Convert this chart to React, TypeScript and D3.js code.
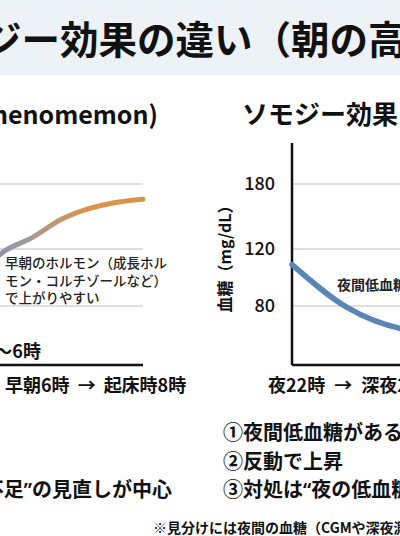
import React from 'react';
import * as d3 from 'd3';

// ---- data ----
const yTicks = [80, 120, 180];
const dawnHours = [22, 23, 24, 25, 26, 27, 28, 29, 30, 31, 32];
const dawnValues = [100, 98, 97, 99, 104, 119, 131, 147, 157, 163, 166];
const somogyiHours = [22, 24, 26, 28, 30, 32];
const somogyiValues = [109, 79, 64, 60, 115, 168];
const dawnNote = ['早朝のホルモン（成長ホル', 'モン・コルチゾールなど）', 'で上がりやすい'];
const somogyiNote = '夜間低血糖（無自覚のことも）';
const dawnXLabel = ['早朝6時', '→', '起床時8時'];
const somogyiXLabel = ['夜22時', '→', '深夜2時', '→', '朝8時'];
const dawnPoints = ['①夜間は比較的安定', '②明け方から上昇'];
const dawnPoint3 = ['③対処は', '“', 'インスリン不足', '”', 'の見直しが中心'];
const somogyiPoints = ['①夜間低血糖がある（自覚なし）', '②反動で上昇'];
const somogyiPoint3 = ['③対処は', '“', '夜の低血糖', '”', 'を防ぐ'];
const titleText = 'ジー効果の違い（朝の高血糖）';
const dawnTitle = '暁現象（Dawn Phenomemon)';
const somogyiTitle = 'ソモジー効果（Somogyi effect)';
const footnote = '※見分けには夜間の血糖（CGMや深夜測定）が役立つ';

const FONT = '"Noto Sans CJK JP", "Noto Sans", sans-serif';
const QUOTE_FONT = '"Noto Sans", sans-serif';

export default function App() {
  const W = 400;
  const H = 536;
  const plotTop = 143;
  const plotBottom = 365;

  const y = d3.scaleLinear().domain([40, 80, 120, 180]).range([363, 306, 249, 184]);
  const xL = d3.scaleLinear().domain([22, 32]).range([-132, 143]);
  const xR = d3.scaleLinear().domain([22, 32]).range([292, 567]);

  const lineL = d3
    .line<number>()
    .x((_, i) => xL(dawnHours[i]))
    .y((d) => y(d))
    .curve(d3.curveMonotoneX);
  const lineR = d3
    .line<number>()
    .x((_, i) => xR(somogyiHours[i]))
    .y((d) => y(d))
    .curve(d3.curveMonotoneX);

  const point3 = (parts: string[]) =>
    parts.map((p, i) => (
      <tspan key={i} fontFamily={i === 1 || i === 3 ? QUOTE_FONT : undefined}>
        {p}
      </tspan>
    ));

  return (
    <svg
      width={W}
      height={H}
      style={{ position: 'absolute', left: 0, top: 0, fontFamily: FONT }}
    >
      <defs>
        <linearGradient id="dawnGrad" gradientUnits="userSpaceOnUse" x1={-40} y1={0} x2={85} y2={0}>
          <stop offset="0%" stopColor="#6f86a8" />
          <stop offset="45%" stopColor="#9a9aa2" />
          <stop offset="100%" stopColor="#d9944a" />
        </linearGradient>
      </defs>
      <rect x={0} y={0} width={W} height={H} fill="#ffffff" />
      <rect x={0} y={0} width={W} height={75} fill="#edf2f6" />
      <text x={-17} y={54} fontSize={38.5} fontWeight={700} fill="#111">
        {titleText}
      </text>

      {/* panel titles */}
      <text x={158} y={124} textAnchor="end" fontSize={25} fontWeight={700} fill="#111">
        {dawnTitle}
      </text>
      <text x={242} y={124} fontSize={26} fontWeight={700} fill="#111">
        {somogyiTitle}
      </text>

      {/* left chart */}
      {yTicks.map((t) => (
        <line key={'gl' + t} x1={xL(22)} x2={xL(32)} y1={y(t)} y2={y(t)} stroke="#d4d4d4" strokeWidth={1.5} />
      ))}
      <line x1={xL(22)} x2={xL(32)} y1={plotBottom} y2={plotBottom} stroke="#111" strokeWidth={2.5} />
      <path d={lineL(dawnValues) || ''} fill="none" stroke="url(#dawnGrad)" strokeWidth={5} strokeLinecap="round" />
      {dawnNote.map((s, i) => (
        <text key={'dn' + i} x={5} y={268 + i * 17.5} fontSize={13.5} fontWeight={500} fill="#222">
          {s}
        </text>
      ))}
      <text x={41} y={358} textAnchor="end" fontSize={18} fontWeight={700} fill="#111">
        深夜3時〜6時
      </text>
      <text x={5} y={392} fontSize={18} fontWeight={700} fill="#111">
        <tspan>{dawnXLabel[0]}</tspan>
        <tspan dx={8}>{dawnXLabel[1]}</tspan>
        <tspan dx={8}>{dawnXLabel[2]}</tspan>
      </text>

      {/* right chart */}
      {yTicks.map((t) => (
        <line key={'gr' + t} x1={xR(22)} x2={xR(32)} y1={y(t)} y2={y(t)} stroke="#d4d4d4" strokeWidth={1.5} />
      ))}
      <line x1={xR(22)} x2={xR(22)} y1={plotTop} y2={plotBottom} stroke="#111" strokeWidth={2.5} />
      <line x1={xR(22)} x2={xR(32)} y1={plotBottom} y2={plotBottom} stroke="#111" strokeWidth={2.5} />
      {yTicks.map((t) => (
        <text key={'yt' + t} x={275} y={y(t) + 6} textAnchor="end" fontSize={18} fontWeight={500} fill="#111">
          {t}
        </text>
      ))}
      <text
        transform={`translate(231, 255) rotate(-90)`}
        textAnchor="middle"
        fontSize={16}
        fontWeight={700}
        fill="#111"
      >
        血糖（mg/dL）
      </text>
      <path d={lineR(somogyiValues) || ''} fill="none" stroke="#5a86b3" strokeWidth={5.5} strokeLinecap="round" />
      <text x={337} y={290} fontSize={14} fontWeight={600} fill="#222">
        {somogyiNote}
      </text>
      <text x={268} y={392} fontSize={18} fontWeight={700} fill="#111">
        <tspan>{somogyiXLabel[0]}</tspan>
        <tspan dx={9}>{somogyiXLabel[1]}</tspan>
        <tspan dx={9}>{somogyiXLabel[2]}</tspan>
        <tspan dx={9}>{somogyiXLabel[3]}</tspan>
        <tspan dx={9}>{somogyiXLabel[4]}</tspan>
      </text>

      {/* bullet lists */}
      {dawnPoints.map((s, i) => (
        <text key={'dp' + i} x={-230} y={440 + i * 28.5} fontSize={20} fontWeight={600} fill="#111">
          {s}
        </text>
      ))}
      <text x={172} y={497} textAnchor="end" fontSize={20} fontWeight={600} fill="#111">
        {point3(dawnPoint3)}
      </text>
      {somogyiPoints.map((s, i) => (
        <text key={'sp' + i} x={223} y={440 + i * 28.5} fontSize={20} fontWeight={600} fill="#111">
          {s}
        </text>
      ))}
      <text x={223} y={497} fontSize={20} fontWeight={600} fill="#111">
        {point3(somogyiPoint3)}
      </text>
      <text x={153} y={533} fontSize={14} fontWeight={700} fill="#111">
        {footnote}
      </text>
    </svg>
  );
}
